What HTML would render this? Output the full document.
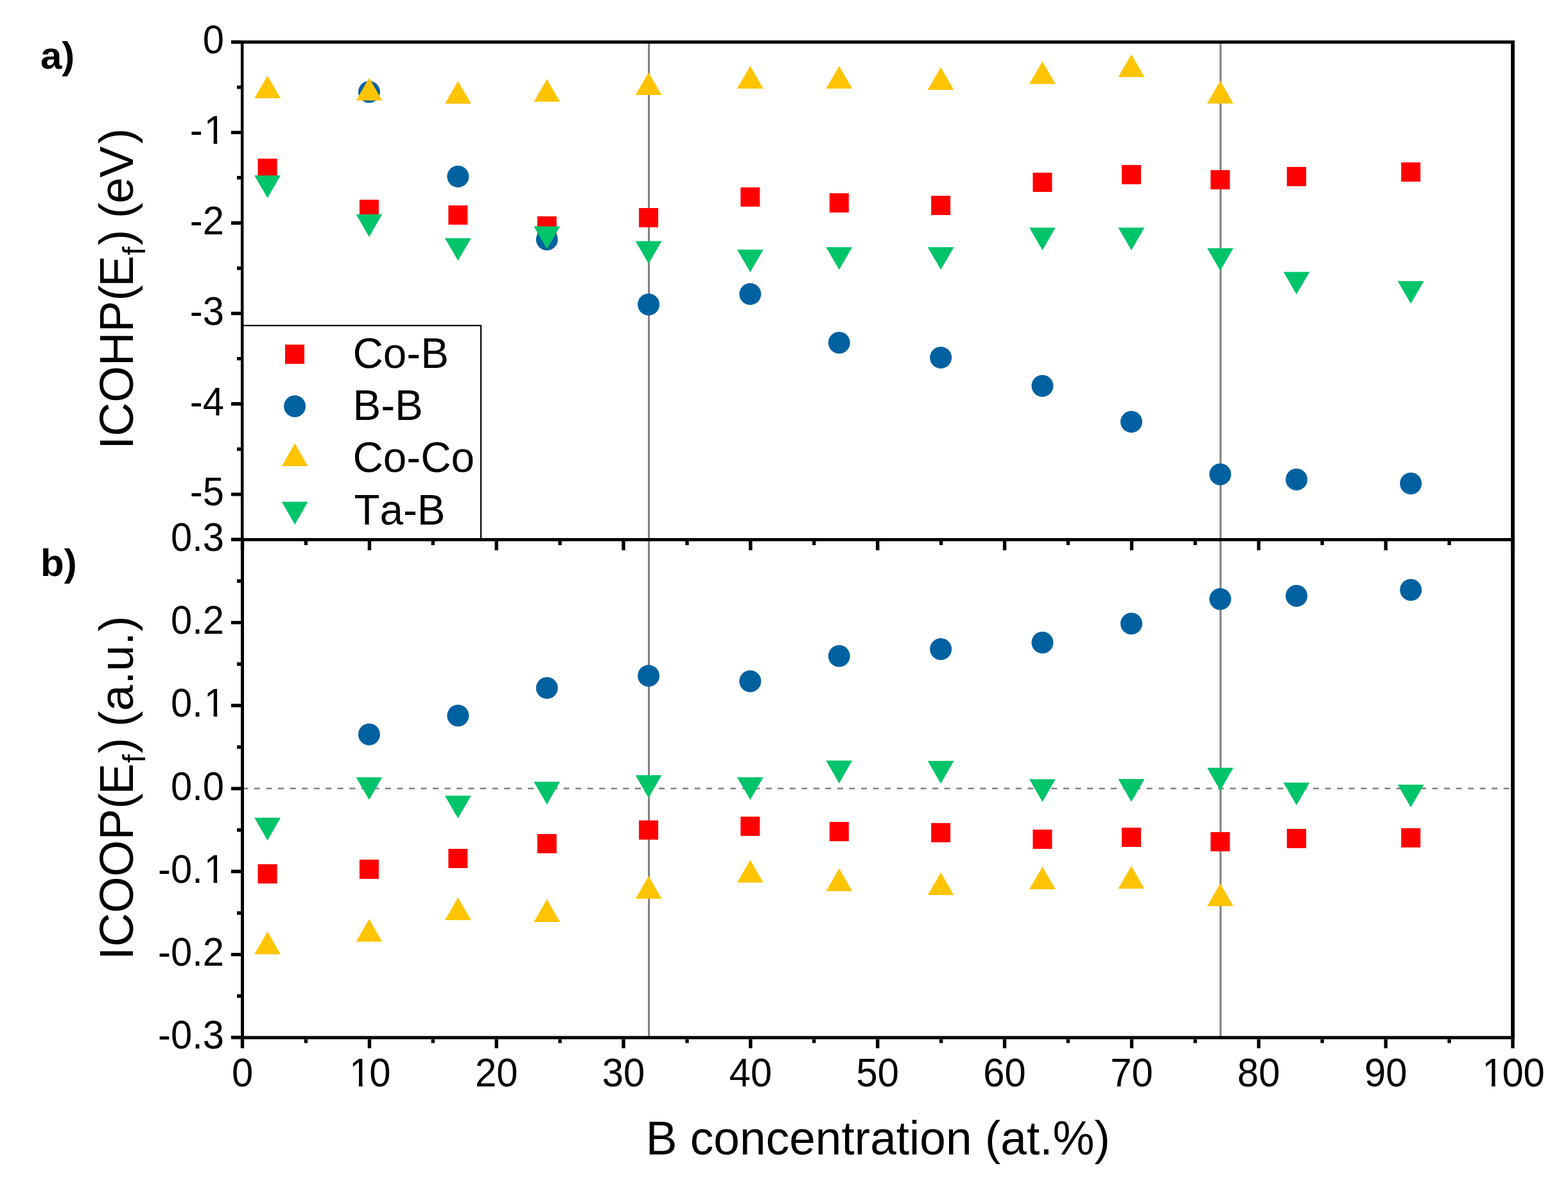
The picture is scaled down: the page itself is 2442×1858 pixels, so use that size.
<!DOCTYPE html><html><head><meta charset="utf-8"><title>ICOHP / ICOOP vs B concentration</title>
<style>html,body{margin:0;padding:0;background:#fff;width:2442px;height:1858px;overflow:hidden}svg{display:block}text{font-family:"Liberation Sans",Arial,sans-serif;font-kerning:none}</style></head><body>
<svg width="2442" height="1858" viewBox="0 0 2442 1858">
<rect width="2442" height="1858" fill="#fff"/>
<g stroke="#7f7f7f" stroke-width="3" fill="none">
<line x1="1010.6" y1="65.5" x2="1010.6" y2="1616"/>
<line x1="1900.9" y1="65.5" x2="1900.9" y2="1616"/>
</g>
<line x1="377.5" y1="1228" x2="2356" y2="1228" stroke="#808080" stroke-width="2.6" stroke-dasharray="9 9.53"/>
<g fill="#ff0000"><rect x="401.6" y="247.1" width="30" height="30"/><rect x="559.9" y="311.0" width="30" height="30"/><rect x="698.3" y="319.9" width="30" height="30"/><rect x="836.8" y="336.9" width="30" height="30"/><rect x="995.1" y="324.0" width="30" height="30"/><rect x="1153.4" y="291.8" width="30" height="30"/><rect x="1291.9" y="301.0" width="30" height="30"/><rect x="1450.2" y="304.9" width="30" height="30"/><rect x="1608.5" y="268.9" width="30" height="30"/><rect x="1747.0" y="257.0" width="30" height="30"/><rect x="1885.4" y="264.9" width="30" height="30"/><rect x="2004.2" y="260.0" width="30" height="30"/><rect x="2182.2" y="252.9" width="30" height="30"/></g>
<g fill="#0061a1"><circle cx="574.9" cy="143.2" r="17"/><circle cx="713.3" cy="274.9" r="17"/><circle cx="851.8" cy="373.0" r="17"/><circle cx="1010.1" cy="474.2" r="17"/><circle cx="1168.4" cy="457.9" r="17"/><circle cx="1306.9" cy="533.8" r="17"/><circle cx="1465.2" cy="556.9" r="17"/><circle cx="1623.5" cy="601.0" r="17"/><circle cx="1762.0" cy="656.9" r="17"/><circle cx="1900.4" cy="738.7" r="17"/><circle cx="2019.2" cy="746.8" r="17"/><circle cx="2197.2" cy="753.0" r="17"/></g>
<g fill="#ffc400"><path d="M416.6 117.7L437.0 153.0L396.2 153.0Z"/><path d="M574.9 121.2L595.2 156.5L554.5 156.5Z"/><path d="M713.3 126.2L733.7 161.5L692.9 161.5Z"/><path d="M851.8 123.2L872.2 158.5L831.4 158.5Z"/><path d="M1010.1 112.8L1030.5 148.1L989.7 148.1Z"/><path d="M1168.4 102.8L1188.8 138.1L1148.0 138.1Z"/><path d="M1306.9 102.8L1327.3 138.1L1286.5 138.1Z"/><path d="M1465.2 104.7L1485.6 139.9L1444.8 139.9Z"/><path d="M1623.5 95.6L1643.9 130.8L1603.1 130.8Z"/><path d="M1762.0 84.7L1782.4 119.9L1741.5 119.9Z"/><path d="M1900.4 125.8L1920.8 161.2L1880.0 161.2Z"/></g>
<g fill="#00c46a"><path d="M396.2 273.2L437.0 273.2L416.6 308.5Z"/><path d="M554.5 333.7L595.2 333.7L574.9 368.9Z"/><path d="M692.9 370.9L733.7 370.9L713.3 406.1Z"/><path d="M831.4 352.6L872.2 352.6L851.8 387.8Z"/><path d="M989.7 375.6L1030.5 375.6L1010.1 410.8Z"/><path d="M1148.0 388.7L1188.8 388.7L1168.4 423.9Z"/><path d="M1286.5 384.9L1327.3 384.9L1306.9 420.1Z"/><path d="M1444.8 384.9L1485.6 384.9L1465.2 420.1Z"/><path d="M1603.1 354.6L1643.9 354.6L1623.5 389.8Z"/><path d="M1741.5 354.6L1782.4 354.6L1762.0 389.8Z"/><path d="M1880.0 386.4L1920.8 386.4L1900.4 421.6Z"/><path d="M1998.8 423.4L2039.6 423.4L2019.2 458.6Z"/><path d="M2176.8 437.8L2217.6 437.8L2197.2 473.0Z"/></g>
<g fill="#ff0000"><rect x="401.6" y="1346.0" width="30" height="30"/><rect x="559.9" y="1338.8" width="30" height="30"/><rect x="698.3" y="1322.0" width="30" height="30"/><rect x="836.8" y="1298.9" width="30" height="30"/><rect x="995.1" y="1277.7" width="30" height="30"/><rect x="1153.4" y="1271.8" width="30" height="30"/><rect x="1291.9" y="1280.1" width="30" height="30"/><rect x="1450.2" y="1281.8" width="30" height="30"/><rect x="1608.5" y="1292.0" width="30" height="30"/><rect x="1747.0" y="1289.0" width="30" height="30"/><rect x="1885.4" y="1295.9" width="30" height="30"/><rect x="2004.2" y="1290.9" width="30" height="30"/><rect x="2182.2" y="1289.8" width="30" height="30"/></g>
<g fill="#0061a1"><circle cx="574.9" cy="1143.8" r="17"/><circle cx="713.3" cy="1114.5" r="17"/><circle cx="851.8" cy="1071.4" r="17"/><circle cx="1010.1" cy="1052.6" r="17"/><circle cx="1168.4" cy="1061.0" r="17"/><circle cx="1306.9" cy="1021.7" r="17"/><circle cx="1465.2" cy="1011.0" r="17"/><circle cx="1623.5" cy="1000.7" r="17"/><circle cx="1762.0" cy="971.3" r="17"/><circle cx="1900.4" cy="933.0" r="17"/><circle cx="2019.2" cy="928.0" r="17"/><circle cx="2197.2" cy="918.8" r="17"/></g>
<g fill="#ffc400"><path d="M416.6 1450.8L437.0 1486.2L396.2 1486.2Z"/><path d="M574.9 1431.2L595.2 1466.6L554.5 1466.6Z"/><path d="M713.3 1397.8L733.7 1433.1L692.9 1433.1Z"/><path d="M851.8 1400.5L872.2 1435.9L831.4 1435.9Z"/><path d="M1010.1 1364.3L1030.5 1399.7L989.7 1399.7Z"/><path d="M1168.4 1339.2L1188.8 1374.6L1148.0 1374.6Z"/><path d="M1306.9 1352.6L1327.3 1388.0L1286.5 1388.0Z"/><path d="M1465.2 1358.8L1485.6 1394.1L1444.8 1394.1Z"/><path d="M1623.5 1349.5L1643.9 1384.9L1603.1 1384.9Z"/><path d="M1762.0 1348.8L1782.4 1384.1L1741.5 1384.1Z"/><path d="M1900.4 1375.9L1920.8 1411.2L1880.0 1411.2Z"/></g>
<g fill="#00c46a"><path d="M396.2 1273.6L437.0 1273.6L416.6 1309.0Z"/><path d="M554.5 1210.4L595.2 1210.4L574.9 1245.8Z"/><path d="M692.9 1239.2L733.7 1239.2L713.3 1274.6Z"/><path d="M831.4 1217.5L872.2 1217.5L851.8 1252.9Z"/><path d="M989.7 1207.3L1030.5 1207.3L1010.1 1242.7Z"/><path d="M1148.0 1210.4L1188.8 1210.4L1168.4 1245.8Z"/><path d="M1286.5 1184.5L1327.3 1184.5L1306.9 1219.9Z"/><path d="M1444.8 1185.1L1485.6 1185.1L1465.2 1220.5Z"/><path d="M1603.1 1213.5L1643.9 1213.5L1623.5 1248.9Z"/><path d="M1741.5 1213.3L1782.4 1213.3L1762.0 1248.7Z"/><path d="M1880.0 1195.8L1920.8 1195.8L1900.4 1231.2Z"/><path d="M1998.8 1218.8L2039.6 1218.8L2019.2 1254.2Z"/><path d="M2176.8 1222.0L2217.6 1222.0L2197.2 1257.4Z"/></g>
<rect x="378" y="507" width="371" height="334" fill="none" stroke="#000" stroke-width="2.2"/>
<g fill="#ff0000"><rect x="444.0" y="536.7" width="30" height="30"/></g><g fill="#0061a1"><circle cx="459.1" cy="632.8" r="17"/></g><g fill="#ffc400"><path d="M459.2 690.6L479.6 725.9L438.8 725.9Z"/></g><g fill="#00c46a"><path d="M438.8 781.6L479.6 781.6L459.2 816.9Z"/></g>
<g font-size="65.6" fill="#000">
<text transform="translate(549.5 572.5) scale(1 1.025)">Co-B</text>
<text transform="translate(549.5 653.9) scale(1 1.025)">B-B</text>
<text transform="translate(549.5 735.3) scale(1 1.025)">Co-Co</text>
<text transform="translate(551.5 816.7) scale(1 1.025)">Ta-B</text>
</g>
<g stroke="#000" stroke-width="5" fill="none" stroke-linecap="square">
<path d="M377 65.5H2356V1616H377.5"/>
<line x1="377.5" y1="840.5" x2="377.5" y2="1616"/>
<line x1="377.2" y1="63" x2="377.2" y2="843" stroke-width="4.5" stroke-linecap="butt"/>
<line x1="2356" y1="63" x2="2356" y2="1618.5" stroke-width="5.6" stroke-linecap="butt"/>
<line x1="377.5" y1="840.5" x2="2356" y2="840.5"/>
</g>
<path d="M377.5 1618.5v14M377.5 843v14M476.4 1618.5v6M476.4 843v6M575.4 1618.5v14M575.4 843v14M674.3 1618.5v6M674.3 843v6M773.2 1618.5v14M773.2 843v14M872.1 1618.5v6M872.1 843v6M971.0 1618.5v14M971.0 843v14M1070.0 1618.5v6M1070.0 843v6M1168.9 1618.5v14M1168.9 843v14M1267.8 1618.5v6M1267.8 843v6M1366.8 1618.5v14M1366.8 843v14M1465.7 1618.5v6M1465.7 843v6M1564.6 1618.5v14M1564.6 843v14M1663.5 1618.5v6M1663.5 843v6M1762.5 1618.5v14M1762.5 843v14M1861.4 1618.5v6M1861.4 843v6M1960.3 1618.5v14M1960.3 843v14M2059.2 1618.5v6M2059.2 843v6M2158.2 1618.5v14M2158.2 843v14M2257.1 1618.5v6M2257.1 843v6M2356.0 1618.5v14M2356.0 843v14M375 65.5h-15M375 135.9h-6M375 206.4h-15M375 276.8h-6M375 347.3h-15M375 417.7h-6M375 488.1h-15M375 558.6h-6M375 629.0h-15M375 699.5h-6M375 769.9h-15M375 840.3h-6M375 840.3h-15M375 905.0h-6M375 969.6h-15M375 1034.2h-6M375 1098.8h-15M375 1163.5h-6M375 1228.1h-15M375 1292.7h-6M375 1357.3h-15M375 1422.0h-6M375 1486.6h-15M375 1551.2h-6M375 1615.8h-15" stroke="#000" stroke-width="5.4" fill="none"/>
<defs><clipPath id="c0"><path clip-rule="evenodd" d="M-53.93 -80H53.93V30H-53.93ZM-28.75 -5.36H-16.76V4H-28.75ZM-10.97 -5.36H0.55V4H-10.97Z"/></clipPath><clipPath id="c1"><path clip-rule="evenodd" d="M-70.89 -80H70.89V30H-70.89ZM-45.72 -5.36H-33.72V4H-45.72ZM-27.93 -5.36H-16.42V4H-27.93Z"/></clipPath><clipPath id="c2"><path clip-rule="evenodd" d="M-74.24 -80H20.00V30H-74.24ZM-28.75 -5.36H-16.76V4H-28.75ZM-10.97 -5.36H0.55V4H-10.97Z"/></clipPath><clipPath id="c3"><path clip-rule="evenodd" d="M-104.80 -80H20.00V30H-104.80ZM-28.75 -5.36H-16.76V4H-28.75ZM-10.97 -5.36H0.55V4H-10.97Z"/></clipPath><clipPath id="c4"><path clip-rule="evenodd" d="M-125.11 -80H20.00V30H-125.11ZM-28.75 -5.36H-16.76V4H-28.75ZM-10.97 -5.36H0.55V4H-10.97Z"/></clipPath></defs>
<g font-size="61" fill="#000">
<text transform="translate(377.50 1691.50) scale(0.98 1.03)" x="-16.96">0</text>
<text transform="translate(575.35 1691.50) scale(0.98 1.03)" x="-33.93" dx="2.03 -2.03" clip-path="url(#c0)">10</text>
<text transform="translate(773.20 1691.50) scale(0.98 1.03)" x="-33.93">20</text>
<text transform="translate(971.05 1691.50) scale(0.98 1.03)" x="-33.93">30</text>
<text transform="translate(1168.90 1691.50) scale(0.98 1.03)" x="-33.93">40</text>
<text transform="translate(1366.75 1691.50) scale(0.98 1.03)" x="-33.93">50</text>
<text transform="translate(1564.60 1691.50) scale(0.98 1.03)" x="-33.93">60</text>
<text transform="translate(1762.45 1691.50) scale(0.98 1.03)" x="-33.93">70</text>
<text transform="translate(1960.30 1691.50) scale(0.98 1.03)" x="-33.93">80</text>
<text transform="translate(2158.15 1691.50) scale(0.98 1.03)" x="-33.93">90</text>
<text transform="translate(2356.00 1691.50) scale(0.98 1.03)" x="-50.89" dx="2.03 -2.03 0" clip-path="url(#c1)">100</text>
<text transform="translate(349.00 83.00) scale(0.98 1.03)" x="-33.93">0</text>
<text transform="translate(349.00 223.88) scale(0.98 1.03)" x="-54.24" dx="0 2.03" clip-path="url(#c2)">-1</text>
<text transform="translate(349.00 364.76) scale(0.98 1.03)" x="-54.24">-2</text>
<text transform="translate(349.00 505.64) scale(0.98 1.03)" x="-54.24">-3</text>
<text transform="translate(349.00 646.52) scale(0.98 1.03)" x="-54.24">-4</text>
<text transform="translate(349.00 787.40) scale(0.98 1.03)" x="-54.24">-5</text>
<text transform="translate(349.00 857.85) scale(0.98 1.03)" x="-84.80">0.3</text>
<text transform="translate(349.00 987.10) scale(0.98 1.03)" x="-84.80">0.2</text>
<text transform="translate(349.00 1116.35) scale(0.98 1.03)" x="-84.80" dx="0 0 2.03" clip-path="url(#c3)">0.1</text>
<text transform="translate(349.00 1245.60) scale(0.98 1.03)" x="-84.80">0.0</text>
<text transform="translate(349.00 1374.85) scale(0.98 1.03)" x="-105.11" dx="0 0 0 2.03" clip-path="url(#c4)">-0.1</text>
<text transform="translate(349.00 1504.10) scale(0.98 1.03)" x="-105.11">-0.2</text>
<text transform="translate(349.00 1633.35) scale(0.98 1.03)" x="-105.11">-0.3</text>
</g>
<text x="63" y="107" font-size="60" font-weight="bold">a)</text>
<text x="63" y="897" font-size="60" font-weight="bold">b)</text>
<text transform="translate(1367.3 1798) scale(1 1.01)" font-size="73.1" text-anchor="middle">B concentration (at.%)</text>
<text transform="translate(207 699.7) rotate(-90) scale(1 1.02)" font-size="73">ICOHP(<tspan dx="-2.5">E</tspan><tspan font-size="48.5" dy="18.8" dx="0.5">f</tspan><tspan dy="-18.8" dx="2 0 -2.5 -1 -0.5 4">) (eV)</tspan></text>
<text transform="translate(207 1494.9) rotate(-90) scale(1 1.02)" font-size="73">ICOOP(<tspan dx="-2">E</tspan><tspan font-size="48.5" dy="18.8" dx="0.5">f</tspan><tspan dy="-18.8" dx="1.5 0 -3 0 1 0 0 1">) (a.u.)</tspan></text>
</svg></body></html>
